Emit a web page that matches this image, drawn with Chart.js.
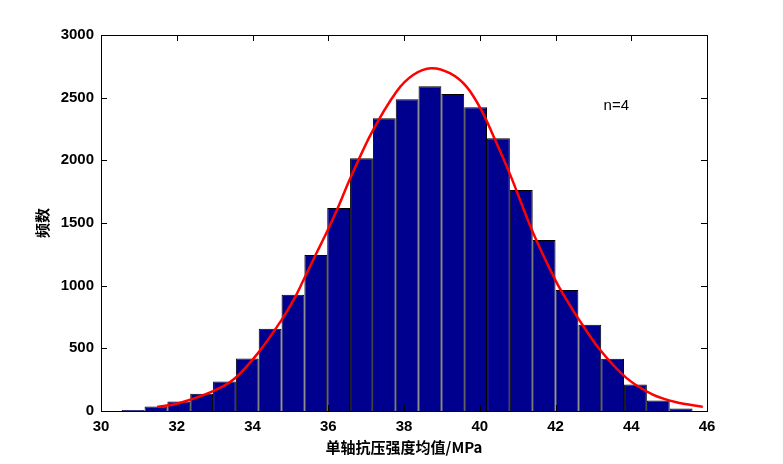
<!DOCTYPE html>
<html>
<head>
<meta charset="utf-8">
<script src="https://cdn.jsdelivr.net/npm/chart.js@4.4.0/dist/chart.umd.min.js"></script>
<style>
  body { margin: 0; background: #fff; }
  canvas { display: block; }
</style>
</head>
<body>
<canvas id="histChart" width="783" height="464"></canvas>
<script>
// histogram bins (centres, MPa) and counts
const binCenters = [30.848, 31.451, 32.054, 32.657, 33.260, 33.862, 34.465, 35.068, 35.671,
  36.274, 36.877, 37.480, 38.083, 38.685, 39.288, 39.891, 40.494, 41.097, 41.700, 42.303,
  42.906, 43.508, 44.111, 44.714, 45.317];
const binCounts = [8, 36, 76, 137, 235, 418, 657, 928, 1245, 1619, 2017, 2336, 2488, 2591,
  2530, 2424, 2177, 1763, 1364, 966, 689, 416, 211, 84, 20];

// fitted curve
const curveX = [31.48, 32.03, 32.96, 33.53, 34.15, 34.76, 35.11, 35.33, 35.69, 35.95, 36.26,
  36.55, 37.14, 37.80, 38.24, 38.72, 39.21, 39.65, 40.04, 40.44, 40.84, 41.41, 42.02,
  42.29, 42.59, 43.17, 43.87, 44.57, 45.19, 45.89];
const curveY = [33, 60, 158, 259, 464, 723, 900, 1035, 1260, 1420, 1625, 1835, 2217, 2548,
  2681, 2735, 2695, 2588, 2402, 2140, 1858, 1420, 1030, 888, 743, 490, 264, 131, 70, 33];

const xTicks = [30, 32, 34, 36, 38, 40, 42, 44, 46];
const yTicks = [0, 500, 1000, 1500, 2000, 2500, 3000];

const noteText = 'n=4';
const noteX = 43.27;
const noteY = 2434;

const frame = {
  id: 'frame',
  afterDatasetsDraw(chart) {
    const { ctx, chartArea: a, scales: { x, y } } = chart;
    ctx.save();
    ctx.strokeStyle = '#000';
    ctx.lineWidth = 1;
    ctx.strokeRect(a.left + 0.5, a.top + 0.5, a.right - a.left, a.bottom - a.top);
    ctx.beginPath();
    x.ticks.forEach(t => {
      const px = Math.round(x.getPixelForValue(t.value)) + 0.5;
      ctx.moveTo(px, a.bottom); ctx.lineTo(px, a.bottom - 6);
      ctx.moveTo(px, a.top); ctx.lineTo(px, a.top + 6);
    });
    y.ticks.forEach(t => {
      const py = Math.round(y.getPixelForValue(t.value)) + 0.5;
      ctx.moveTo(a.left, py); ctx.lineTo(a.left + 6, py);
      ctx.moveTo(a.right, py); ctx.lineTo(a.right - 6, py);
    });
    ctx.stroke();
    ctx.fillStyle = '#000';
    ctx.font = '15px "Liberation Sans"';
    ctx.textBaseline = 'middle';
    ctx.fillText(noteText, x.getPixelForValue(noteX), y.getPixelForValue(noteY));
    ctx.restore();
  }
};

const tickFont = { family: '"Liberation Sans", Arial', size: 15, weight: 'bold' };
const titleFont = { family: '"Noto Sans CJK SC", "Liberation Sans"', size: 15, weight: 'bold' };

new Chart(document.getElementById('histChart'), {
  data: {
    datasets: [{
      type: 'line',
      data: curveX.map((v, i) => ({ x: v, y: curveY[i] })),
      borderColor: '#ff0000',
      borderWidth: 2.5,
      pointRadius: 0,
      tension: 0.3,
      order: 0
    }, {
      type: 'bar',
      data: binCenters.map((v, i) => ({ x: v, y: binCounts[i] })),
      backgroundColor: 'rgb(0,0,143)',
      borderColor: '#000',
      borderWidth: 1,
      inflateAmount: 0,
      barPercentage: 1,
      categoryPercentage: 1,
      order: 1
    }]
  },
  options: {
    responsive: false,
    animation: false,
    layout: { padding: { left: 0, top: 35, right: 76, bottom: 0 } },
    plugins: { legend: { display: false }, tooltip: { enabled: false } },
    scales: {
      x: {
        type: 'linear',
        offset: false,
        min: 30, max: 46,
        afterFit: s => { s.height = 53; },
        afterBuildTicks: s => { s.ticks = xTicks.map(v => ({ value: v })); },
        grid: { display: false, drawTicks: false },
        border: { display: false },
        ticks: { color: '#000', font: tickFont, padding: 7, maxRotation: 0, callback: v => String(v) },
        title: { display: true, text: '单轴抗压强度均值/MPa', color: '#000', font: titleFont, padding: { top: 0, bottom: 8 } }
      },
      y: {
        min: 0, max: 3000,
        afterFit: s => { s.width = 101; },
        afterBuildTicks: s => { s.ticks = yTicks.map(v => ({ value: v })); },
        grid: { display: false, drawTicks: false },
        border: { display: false },
        ticks: { color: '#000', font: tickFont, padding: 7, callback: v => String(v) },
        title: { display: true, text: '频数', color: '#000', font: titleFont, padding: { top: 33, bottom: 0 } }
      }
    }
  },
  plugins: [frame]
});
</script>
</body>
</html>
